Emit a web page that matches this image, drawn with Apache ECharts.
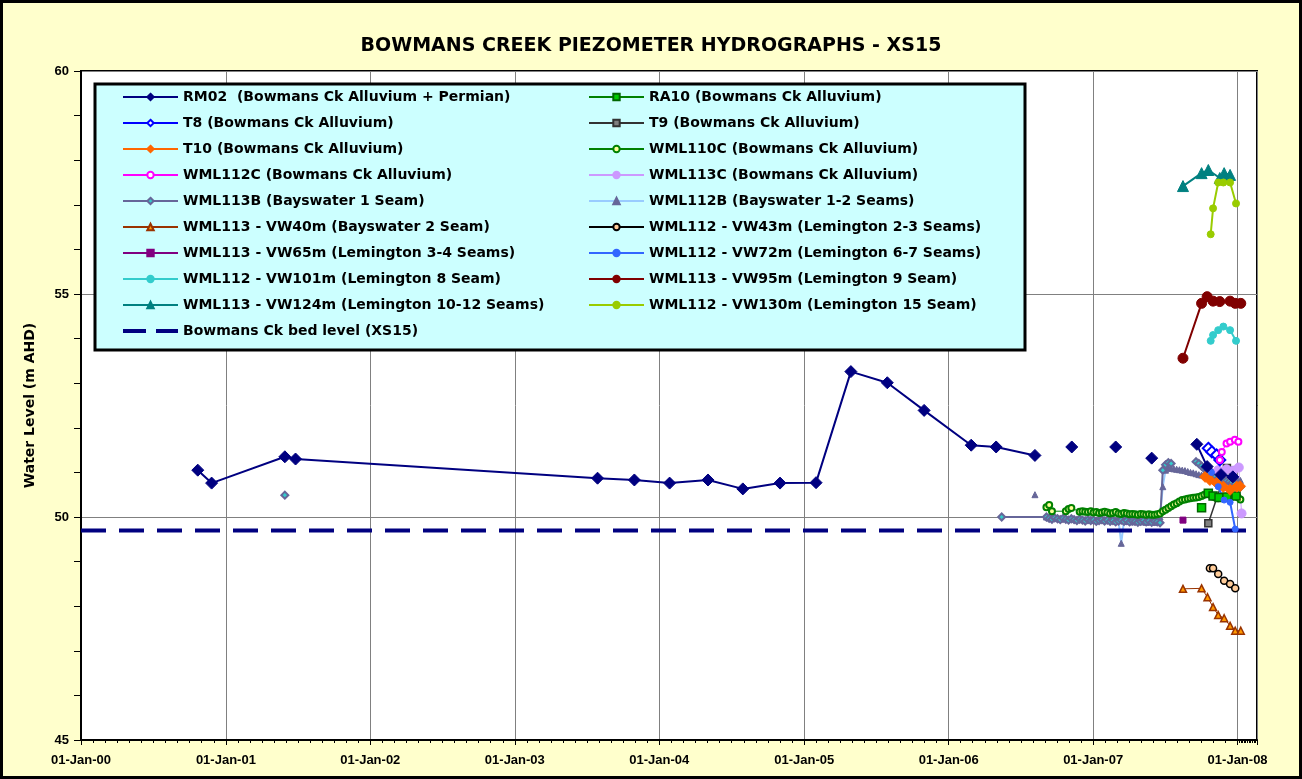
<!DOCTYPE html>
<html>
<head>
<meta charset="utf-8">
<title>Bowmans Creek Piezometer Hydrographs - XS15</title>
<script src="https://cdn.jsdelivr.net/npm/echarts@6/dist/echarts.min.js"></script>
<style>
  html, body { margin: 0; padding: 0; background: #fff; }
  #chart { width: 1302px; height: 779px; }
</style>
</head>
<body>
<div id="chart"></div>
<script>
// weekly logger dates (shared by the dense alluvium / bayswater series)
const weekly06 = ['2006-09-05', '2006-09-12', '2006-09-19', '2006-09-26', '2006-10-03', '2006-10-10', '2006-10-17',
  '2006-10-24', '2006-10-31', '2006-11-07', '2006-11-14', '2006-11-21', '2006-11-28', '2006-12-05', '2006-12-12',
  '2006-12-19', '2006-12-26', '2007-01-02', '2007-01-09', '2007-01-16', '2007-01-23', '2007-01-30', '2007-02-06',
  '2007-02-13', '2007-02-20', '2007-02-27', '2007-03-06', '2007-03-13', '2007-03-20', '2007-03-27', '2007-04-03',
  '2007-04-10', '2007-04-17', '2007-04-24', '2007-05-01', '2007-05-08', '2007-05-15', '2007-05-22', '2007-05-29',
  '2007-06-05', '2007-06-12', '2007-06-19']
const weekly07 = ['2007-06-26', '2007-07-03', '2007-07-10', '2007-07-17', '2007-07-24', '2007-07-31', '2007-08-07',
  '2007-08-14', '2007-08-21', '2007-08-28', '2007-09-04', '2007-09-11', '2007-09-18', '2007-09-25', '2007-10-02',
  '2007-10-09', '2007-10-16', '2007-10-23', '2007-10-30', '2007-11-06', '2007-11-13', '2007-11-20', '2007-11-27',
  '2007-12-04', '2007-12-11', '2007-12-18', '2007-12-25', '2008-01-01', '2008-01-08']

const rm02Dates = ['2000-10-22', '2000-11-26', '2001-05-30', '2001-06-26', '2003-07-29', '2003-10-30', '2004-01-27',
  '2004-05-03', '2004-07-30', '2004-11-01', '2005-01-31', '2005-04-29', '2005-07-30', '2005-10-31', '2006-02-27',
  '2006-05-01', '2006-08-07', '2006-09-20', '2006-11-08', '2007-01-01', '2007-02-27', '2007-04-15', '2007-05-29',
  '2007-07-20', '2007-09-20', '2007-10-16', '2007-11-20', '2007-12-20']
const rm02Values = [51.05, 50.76, 51.35, 51.30, 50.87, 50.83, 50.76, 50.83, 50.63, 50.76, 50.77, 53.26, 53.01, 52.39,
  51.61, 51.57, 51.38, null, 51.57, null, 51.57, null, 51.32, null, 51.63, 51.13, 50.95, 50.90]

const ra10Dates = ['2007-10-02', '2007-10-10', '2007-10-19', '2007-10-31', '2007-11-15', '2007-12-05', '2007-12-28']
const ra10Values = [50.21, null, 50.53, 50.47, 50.44, 50.45, 50.47]

const t8Dates = ['2007-10-19', '2007-10-28', '2007-11-09', '2007-11-17']
const t8Values = [51.54, 51.46, 51.39, 51.28]

const t9Dates = ['2007-10-19', '2007-12-05', '2007-12-20']
const t9Values = [49.86, 51.10, 51.05]

const t10Dates = ['2007-10-11', '2007-10-23', '2007-11-09', '2007-11-26', '2007-12-13', '2007-12-30', '2008-01-07']
const t10Values = [50.90, 50.83, 50.76, 50.68, 50.61, 50.68, 50.69]

const wml110cDates = weekly06.concat(weekly07)
const wml110cValues = [50.22, 50.27, 50.13, null, null, null, null, 50.13, 50.18, 50.20, null, null, 50.12, 50.13,
  50.12, 50.11, 50.13, 50.10, 50.11, 50.09, 50.10, 50.12, 50.10, 50.08, 50.09, 50.11, 50.08, 50.07, 50.09, 50.08,
  50.06, 50.07, 50.06, 50.05, 50.07, 50.06, 50.05, 50.06, 50.05, 50.05, 50.06, 50.08,
  50.13, 50.16, 50.20, 50.24, 50.28, 50.31, 50.35, 50.38, 50.39, 50.41, 50.42, 50.43, 50.44, 50.45, 50.47, 50.50,
  50.53, 50.50, 50.46, 50.44, 50.42, 50.43, 50.44, 50.43, 50.44, 50.46, 50.47, 50.45, 50.39]

const wml112cDates = ['2007-11-17', '2007-11-22', '2007-12-04', '2007-12-13', '2007-12-25', '2008-01-03']
const wml112cValues = [51.28, 51.46, 51.65, 51.69, 51.73, 51.69]

const wml113cDates = ['2007-11-13', '2007-12-04', '2007-12-21', '2008-01-04', '2008-01-11']
const wml113cValues = [51.05, 51.07, 51.04, 51.11, 50.08]

const wml113bDates = ['2001-05-30', '2003-01-01', '2006-05-15'].concat(weekly06, weekly07)
const wml113bValues = [50.49, null, 50.00,
  50.00, 49.97, 49.95, 49.98, 49.96, 49.94, 49.97, 49.95, 49.93, 49.96, 49.94, 49.92, 49.95, 49.93, 49.91, 49.94,
  49.92, 49.93, 49.90, 49.92, 49.94, 49.91, 49.93, 49.90, 49.92, 49.89, 49.91, 49.93, 49.90, 49.92, 49.89, 49.91,
  49.90, 49.88, 49.90, 49.92, 49.89, 49.91, 49.88, 49.90, 49.89, 49.87,
  51.05, 51.17, 51.22, 51.20, null, null, null, null, null, null, null, null, 51.24, 51.20, 51.14, 51.08, 51.03,
  50.98, 50.94, 50.90, 50.87, 50.85, 50.83, 50.81, 50.79, 50.77, 50.74, 50.70, 50.67]

const wml112bDates = ['2006-08-07', '2006-08-20'].concat(weekly06, weekly07)
const wml112bValues = [50.50, null,
  50.00, 49.98, 49.97, 49.99, 49.97, 49.96, 49.98, 49.96, 49.95, 49.97, 49.95, 49.94, 49.96, 49.95, 49.94, 49.95,
  49.93, 49.94, 49.92, 49.94, 49.93, 49.92, 49.94, 49.92, 49.93, 49.91, 49.93, 49.41, 49.92, 49.90, 49.91, 49.89,
  49.90, 49.91, 49.89, 49.90, 49.88, 49.90, 49.89, 49.88, 49.90, 50.00,
  50.68, 51.05, 51.10, 51.09, 51.08, 51.07, 51.06, 51.05, 51.04, 51.02, 51.00, 50.99, 50.97, 50.95, 50.94, 50.93,
  50.92, 50.90, 50.89, 50.88, 50.87, 50.86, 50.85, 50.85, 50.84, 50.84, 50.83, 50.83, 50.82]

const vw40Dates = ['2007-08-16', '2007-10-02', '2007-10-17', '2007-10-31', '2007-11-13', '2007-11-28', '2007-12-13',
  '2007-12-26', '2008-01-09']
const vw40Values = [48.39, 48.40, 48.20, 47.98, 47.80, 47.73, 47.56, 47.45, 47.45]

const vw43Dates = ['2007-10-23', '2007-10-31', '2007-11-13', '2007-11-28', '2007-12-13', '2007-12-26']
const vw43Values = [48.85, 48.85, 48.72, 48.57, 48.50, 48.40]

const vw65Dates = ['2007-08-16']
const vw65Values = [49.93]

const vw72Dates = ['2007-10-27', '2007-11-13', '2007-11-28', '2007-12-13', '2007-12-26']
const vw72Values = [51.00, 50.68, 50.38, 50.33, 49.73]

const vw101Dates = ['2007-10-25', '2007-10-31', '2007-11-13', '2007-11-26', '2007-12-13', '2007-12-28']
const vw101Values = [53.95, 54.08, 54.19, 54.27, 54.19, 53.95]

const vw95Dates = ['2007-08-16', '2007-10-02', '2007-10-16', '2007-10-31', '2007-11-17', '2007-12-13', '2007-12-26',
  '2008-01-09']
const vw95Values = [53.56, 54.79, 54.94, 54.84, 54.83, 54.84, 54.79, 54.79]

const vw124Dates = ['2007-08-16', '2007-10-02', '2007-10-19', '2007-11-17', '2007-11-28', '2007-12-13']
const vw124Values = [57.42, 57.71, 57.78, 57.60, 57.71, 57.67]

const vw130Dates = ['2007-10-25', '2007-10-31', '2007-11-13', '2007-11-26', '2007-12-13', '2007-12-28']
const vw130Values = [56.34, 56.92, 57.50, 57.50, 57.50, 57.03]

const bedDates = ['2000-01-01', '2008-02-19']
const bedValues = [49.7, 49.7]

const months = ['Jan', 'Feb', 'Mar', 'Apr', 'May', 'Jun', 'Jul', 'Aug', 'Sep', 'Oct', 'Nov', 'Dec']

function pairs (dates, values) {
  return dates.map((d, i) => [d, values[i] == null ? '-' : values[i]])
}

function fmtDate (v) {
  const d = new Date(v)
  return String(d.getDate()).padStart(2, '0') + '-' + months[d.getMonth()] + '-' +
    String(d.getFullYear() % 100).padStart(2, '0')
}

// one line series per piezometer
function mk (name, dates, values, o) {
  return {
    name: name,
    type: 'line',
    data: pairs(dates, values),
    symbol: o.symbol,
    symbolSize: o.size,
    connectNulls: !!o.connect,
    animation: false,
    lineStyle: { color: o.line, width: o.width || 1 },
    itemStyle: {
      color: o.fill || o.line,
      borderColor: o.border || o.fill || o.line,
      borderWidth: o.bw || 1
    },
    emphasis: { disabled: true }
  }
}

const S = {
  rm02: 'RM02  (Bowmans Ck Alluvium + Permian)',
  ra10: 'RA10 (Bowmans Ck Alluvium)',
  t8: 'T8 (Bowmans Ck Alluvium)',
  t9: 'T9 (Bowmans Ck Alluvium)',
  t10: 'T10 (Bowmans Ck Alluvium)',
  wml110c: 'WML110C (Bowmans Ck Alluvium)',
  wml112c: 'WML112C (Bowmans Ck Alluvium)',
  wml113c: 'WML113C (Bowmans Ck Alluvium)',
  wml113b: 'WML113B (Bayswater 1 Seam)',
  wml112b: 'WML112B (Bayswater 1-2 Seams)',
  vw40: 'WML113 - VW40m (Bayswater 2 Seam)',
  vw43: 'WML112 - VW43m (Lemington 2-3 Seams)',
  vw65: 'WML113 - VW65m (Lemington 3-4 Seams)',
  vw72: 'WML112 - VW72m (Lemington 6-7 Seams)',
  vw101: 'WML112 - VW101m (Lemington 8 Seam)',
  vw95: 'WML113 - VW95m (Lemington 9 Seam)',
  vw124: 'WML113 - VW124m (Lemington 10-12 Seams)',
  vw130: 'WML112 - VW130m (Lemington 15 Seam)',
  bed: 'Bowmans Ck bed level (XS15)'
}

const series = [
  mk(S.wml112b, wml112bDates, wml112bValues, { symbol: 'triangle', size: 6, line: '#99CCFF', width: 2, fill: '#666699' }),
  mk(S.wml113b, wml113bDates, wml113bValues, { symbol: 'diamond', size: 7, line: '#666699', width: 2, fill: '#33CCCC', border: '#666699', bw: 2 }),
  mk(S.wml110c, wml110cDates, wml110cValues, { symbol: 'circle', size: 6, line: '#008000', fill: '#FFFF99', border: '#008000', bw: 2, connect: true }),
  mk(S.ra10, ra10Dates, ra10Values, { symbol: 'rect', size: 8, line: '#008000', fill: '#00CC00', border: '#006600', bw: 1.5 }),
  mk(S.t9, t9Dates, t9Values, { symbol: 'rect', size: 7, line: '#333333', width: 1.5, fill: '#808080', border: '#333333', bw: 1.5 }),
  mk(S.t10, t10Dates, t10Values, { symbol: 'diamond', size: 11, line: '#FF6600', fill: '#FF6600' }),
  mk(S.wml113c, wml113cDates, wml113cValues, { symbol: 'circle', size: 9, line: '#CC99FF', fill: '#CC99FF' }),
  mk(S.vw72, vw72Dates, vw72Values, { symbol: 'circle', size: 6, line: '#3366FF', width: 2, fill: '#3366FF' }),
  mk(S.t8, t8Dates, t8Values, { symbol: 'diamond', size: 11, line: '#0000FF', fill: '#FFFFFF', border: '#0000FF', bw: 2 }),
  mk(S.wml112c, wml112cDates, wml112cValues, { symbol: 'circle', size: 6, line: '#FF00FF', fill: '#FFFFFF', border: '#FF00FF', bw: 2 }),
  mk(S.rm02, rm02Dates, rm02Values, { symbol: 'diamond', size: 12, line: '#000080', width: 2, fill: '#000080' }),
  mk(S.vw40, vw40Dates, vw40Values, { symbol: 'triangle', size: 7, line: '#993300', fill: '#FF9900', border: '#993300', bw: 1.5 }),
  mk(S.vw43, vw43Dates, vw43Values, { symbol: 'circle', size: 7, line: '#000000', fill: '#FFCC99', border: '#000000', bw: 1.5 }),
  mk(S.vw65, vw65Dates, vw65Values, { symbol: 'rect', size: 6, line: '#800080', fill: '#800080' }),
  mk(S.vw101, vw101Dates, vw101Values, { symbol: 'circle', size: 7, line: '#33CCCC', width: 2, fill: '#33CCCC' }),
  mk(S.vw95, vw95Dates, vw95Values, { symbol: 'circle', size: 10, line: '#800000', width: 2, fill: '#800000' }),
  mk(S.vw124, vw124Dates, vw124Values, { symbol: 'triangle', size: 11, line: '#008080', width: 2, fill: '#008080' }),
  mk(S.vw130, vw130Dates, vw130Values, { symbol: 'circle', size: 7, line: '#99CC00', width: 2, fill: '#99CC00' }),
  {
    name: S.bed,
    type: 'line',
    data: pairs(bedDates, bedValues),
    symbol: 'none',
    animation: false,
    lineStyle: { color: '#000080', width: 4, type: [25, 13] },
    itemStyle: { color: '#000080' },
    emphasis: { disabled: true }
  }
]

const legendText = { fontFamily: 'DejaVu Sans', fontWeight: 'bold', fontSize: 14, color: '#000', lineHeight: 16 }
const legendBase = {
  orient: 'vertical', top: 89, itemWidth: 55, itemHeight: 8, itemGap: 10,
  textStyle: legendText, selectedMode: false, z: 6, padding: 0
}

const chart = echarts.init(document.getElementById('chart'))
chart.setOption({
  backgroundColor: '#FFFFCC',
  animation: false,
  title: {
    text: 'BOWMANS CREEK PIEZOMETER HYDROGRAPHS - XS15',
    left: 'center',
    top: 32,
    textStyle: { fontFamily: 'DejaVu Sans', fontWeight: 'bold', fontSize: 19, color: '#000' }
  },
  legend: [
    Object.assign({}, legendBase, {
      left: 122,
      data: [S.rm02, S.t8, S.t10, S.wml112c, S.wml113b, S.vw40, S.vw65, S.vw101, S.vw124,
        { name: S.bed, icon: 'path://M0,0H23V4H0ZM33,0H55V4H33Z' }]
    }),
    Object.assign({}, legendBase, {
      left: 588,
      data: [S.ra10, S.t9, S.wml110c, S.wml113c, S.wml112b, S.vw43, S.vw72, S.vw95, S.vw130]
    })
  ],
  graphic: [
    {
      type: 'rect', z: 3,
      shape: { x: 95, y: 84, width: 930, height: 266 },
      style: { fill: '#CCFFFF', stroke: '#000', lineWidth: 3 }
    },
    {
      type: 'rect', z: 20,
      shape: { x: 1.5, y: 1.5, width: 1299, height: 776 },
      style: { fill: 'none', stroke: '#000', lineWidth: 3 }
    }
  ],
  grid: {
    left: 81, right: 45, top: 71, bottom: 39,
    show: true, backgroundColor: '#fff', borderColor: '#000', borderWidth: 2
  },
  xAxis: {
    type: 'time',
    min: '2000-01-01',
    max: '2008-02-19',
    minInterval: 365 * 864e5,
    maxInterval: 366 * 864e5,
    axisLine: { show: true, lineStyle: { color: '#000', width: 2 } },
    axisTick: { show: true, length: 5, lineStyle: { color: '#000' } },
    minorTick: { show: true, splitNumber: 12, length: 3, lineStyle: { color: '#000' } },
    splitLine: { show: true, lineStyle: { color: '#808080', width: 1 } },
    axisLabel: {
      formatter: fmtDate, showMinLabel: true, margin: 14,
      fontFamily: 'Liberation Sans', fontWeight: 'bold', fontSize: 13, color: '#000'
    }
  },
  yAxis: {
    type: 'value',
    min: 45,
    max: 60,
    interval: 5,
    name: 'Water Level (m AHD)',
    nameLocation: 'middle',
    nameGap: 44,
    nameTextStyle: { fontFamily: 'DejaVu Sans', fontWeight: 'bold', fontSize: 14, color: '#000' },
    axisLine: { show: true, lineStyle: { color: '#000', width: 2 } },
    axisTick: { show: true, length: 7, lineStyle: { color: '#000' } },
    minorTick: { show: true, splitNumber: 5, length: 7, lineStyle: { color: '#000' } },
    splitLine: { show: true, lineStyle: { color: '#808080', width: 1 } },
    axisLabel: { margin: 12, fontFamily: 'Liberation Sans', fontWeight: 'bold', fontSize: 13, color: '#000' }
  },
  series: series
})
</script>
</body>
</html>
